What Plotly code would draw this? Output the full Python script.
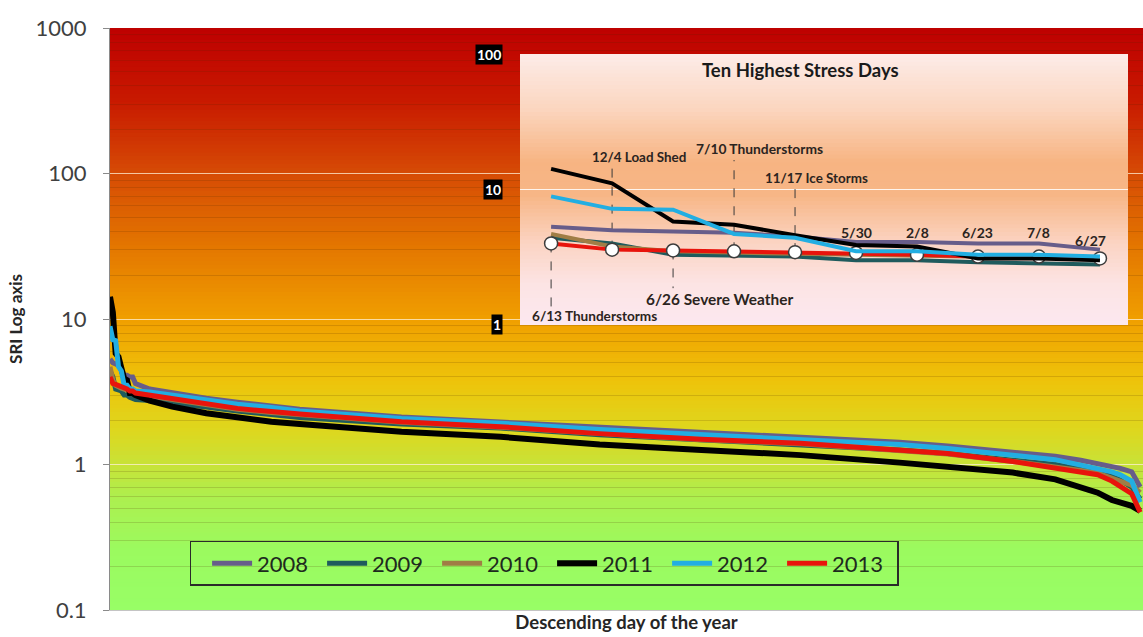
import numpy as np
import plotly.graph_objects as go

FONT = "Lato"

# ---------------- data ----------------
years = ["2008", "2009", "2010", "2011", "2012", "2013"]
days = [1, 2, 3, 4, 5, 6, 7, 8, 9, 10,
        15, 23, 35, 46, 58, 68,
        104, 139, 174, 210, 245,
        280, 297, 320, 335, 344,
        350, 355, 358, 362, 365]

sri_2008 = [5.3, 5.0, 4.9, 4.8, 4.5, 4.1, 4.1, 4.0, 4.0, 3.6,
            3.3, 3.1, 2.85, 2.68, 2.52, 2.4,
            2.12, 1.96, 1.78, 1.64, 1.53,
            1.42, 1.34, 1.22, 1.14, 1.07,
            1.02, 0.97, 0.94, 0.89, 0.70]
sri_2009 = [4.4, 4.0, 3.3, 3.25, 3.2, 3.0, 3.0, 2.9, 2.85, 2.8,
            2.75, 2.65, 2.48, 2.33, 2.2, 2.1,
            1.9, 1.78, 1.6, 1.48, 1.38,
            1.26, 1.19, 1.07, 1.0, 0.93,
            0.88, 0.83, 0.78, 0.70, 0.58]
sri_2010 = [4.7, 3.8, 3.5, 3.4, 3.35, 3.3, 3.25, 3.2, 3.15, 3.1,
            2.95, 2.8, 2.57, 2.4, 2.28, 2.2,
            1.95, 1.8, 1.62, 1.48, 1.39,
            1.26, 1.18, 1.05, 0.97, 0.91,
            0.87, 0.81, 0.77, 0.72, 0.64]
sri_2011 = [14.2, 11.1, 5.8, 5.5, 4.6, 3.9, 3.8, 3.1, 3.1, 3.0,
            2.75, 2.5, 2.25, 2.09, 1.97, 1.9,
            1.68, 1.55, 1.37, 1.26, 1.16,
            1.03, 0.966, 0.88, 0.79, 0.705,
            0.64, 0.57, 0.55, 0.52, 0.48]
sri_2012 = [8.9, 7.2, 7.1, 4.7, 4.4, 3.5, 3.5, 3.3, 3.3, 3.2,
            3.15, 3.0, 2.77, 2.6, 2.47, 2.33,
            2.07, 1.92, 1.74, 1.6, 1.49,
            1.37, 1.29, 1.16, 1.08, 0.99,
            0.94, 0.89, 0.85, 0.77, 0.55]
sri_2013 = [4.0, 3.6, 3.55, 3.5, 3.45, 3.4, 3.3, 3.2, 3.2, 3.1,
            3.0, 2.85, 2.6, 2.43, 2.31, 2.22,
            1.97, 1.82, 1.63, 1.49, 1.40,
            1.27, 1.19, 1.05, 0.95, 0.89,
            0.85, 0.77, 0.70, 0.63, 0.47]

event_dates = ["6/13", "12/4", "6/26", "7/10", "11/17", "5/30", "2/8", "6/23", "7/8", "6/27"]
event_names = ["Thunderstorms", "Load Shed", "Severe Weather", "Thunderstorms", "Ice Storms",
               "", "", "", "", ""]

y_tick_vals = [0.1, 1, 10, 100, 1000]
y_tick_text = ["0.1", "1", "10", "100", "1000"]
inset_tick_vals = [1, 10, 100]
inset_tick_text = ["1", "10", "100"]

series = {"2008": sri_2008, "2009": sri_2009, "2010": sri_2010,
          "2011": sri_2011, "2012": sri_2012, "2013": sri_2013}

# ---------------- styles ----------------
colors = {"2008": "#675d8a", "2009": "#1f5b5d", "2010": "#a07d45",
          "2011": "#000000", "2012": "#22aee2", "2013": "#e8140c"}
main_width = {"2008": 5, "2009": 5, "2010": 5, "2011": 6, "2012": 5, "2013": 5}

# label placement for the inset (SRI level of label, anchor, shift px, dashed-line end level, font size)
label_style = [
    (1.16, "left", -21, 1.26, 13.6),
    (17.4, "left", -22, 14.7, 13.4),
    (1.56, "left", -29, 1.87, 15.4),
    (20.2, "left", -40, 16.5, 13.8),
    (12.2, "left", -32, 10.8, 13.4),
    (4.78, "center", 0, None, 14),
    (4.78, "center", 0, None, 14),
    (4.78, "center", 0, None, 14),
    (4.78, "center", 0, None, 14),
    (4.17, "center", -9, None, 14),
]

main_stops = [(0.0, (190, 0, 0)), (0.124, (200, 25, 0)), (0.249, (214, 75, 5)),
              (0.381, (228, 120, 0)), (0.498, (240, 158, 0)), (0.605, (238, 195, 10)),
              (0.691, (222, 215, 30)), (0.749, (200, 226, 55)), (0.811, (172, 240, 80)),
              (0.897, (155, 250, 95)), (1.0, (152, 254, 102))]
inset_stops = [(0.0, (253, 236, 232)), (0.2, (251, 214, 192)), (0.4, (247, 180, 130)),
               (0.52, (247, 182, 134)), (0.7, (251, 212, 195)), (0.85, (252, 228, 228)),
               (1.0, (252, 232, 240))]

inset_x_range = [-0.51, 9.46]
inset_y_range = [0, 2]  # log10 of 1 .. 100


def lerp(stops, f):
    for (f0, c0), (f1, c1) in zip(stops, stops[1:]):
        if f0 <= f <= f1:
            t = (f - f0) / (f1 - f0) if f1 > f0 else 0
            return "rgb(%d,%d,%d)" % tuple(round(a + (b - a) * t) for a, b in zip(c0, c1))
    return "rgb(%d,%d,%d)" % stops[-1][1]


def gradient(xref, yref, xr, yr, stops, n, ylog=False):
    shapes = []
    span = yr[1] - yr[0]
    for i in range(n):
        top = yr[1] - span * i / n
        bot = max(yr[0], yr[1] - span * (i + 1.4) / n)
        if ylog:
            top, bot = 10 ** top, 10 ** bot
        f = (i + 0.5) / n
        shapes.append(dict(type="rect", xref=xref, yref=yref, x0=xr[0], x1=xr[1], y0=bot, y1=top,
                           fillcolor=lerp(stops, f), line=dict(width=0), layer="below"))
    return shapes


fig = go.Figure()

# main chart lines
for yr in years:
    fig.add_trace(go.Scatter(x=days, y=series[yr], mode="lines", name=yr,
                             line=dict(color=colors[yr], width=main_width[yr]),
                             xaxis="x", yaxis="y"))

# inset: ten highest days of each year
idx = list(range(10))
for i, (lvl, anch, shift, dash_end, fs) in enumerate(label_style):
    if dash_end is not None:
        fig.add_trace(go.Scatter(x=[idx[i], idx[i]], y=[sri_2013[i], dash_end], mode="lines",
                                 line=dict(color="#3a3a3a", width=1, dash="dash"),
                                 xaxis="x2", yaxis="y2", showlegend=False, hoverinfo="skip"))

inset_order = ["2008", "2009", "2010", "2013", "2011", "2012"]
for yr in inset_order:
    vals = series[yr][:10]
    if yr == "2013":
        fig.add_trace(go.Scatter(x=idx, y=vals, mode="lines+markers",
                                 line=dict(color=colors[yr], width=4),
                                 marker=dict(size=13, color="white",
                                             line=dict(color="#3c3c3c", width=1.5)),
                                 xaxis="x2", yaxis="y2", showlegend=False))
    else:
        fig.add_trace(go.Scatter(x=idx, y=vals, mode="lines",
                                 line=dict(color=colors[yr], width=4),
                                 xaxis="x2", yaxis="y2", showlegend=False))

shapes = gradient("x domain", "y domain", [0, 1], [0, 1], main_stops, 150)
shapes += gradient("x2", "y2", inset_x_range, inset_y_range, inset_stops, 70, ylog=True)

annotations = []
for i, (lvl, anch, shift, dash_end, fs) in enumerate(label_style):
    text = event_dates[i] + (" " + event_names[i] if event_names[i] else "")
    annotations.append(dict(x=idx[i], y=np.log10(lvl), xref="x2", yref="y2", text="<b>%s</b>" % text,
                            showarrow=False, xanchor=anch, yanchor="middle", xshift=shift,
                            font=dict(family=FONT, size=fs, color="#2b2420")))
for v, t in zip(inset_tick_vals, inset_tick_text):
    annotations.append(dict(x=0, y=np.log10(v), xref="x2 domain", yref="y2", text="<b>%s</b>" % t,
                            showarrow=False, xanchor="right", yanchor="middle", xshift=-17,
                            bgcolor="black", borderpad=1,
                            font=dict(family=FONT, size=14, color="white")))
annotations.append(dict(x=0.668, y=0.928, xref="paper", yref="paper",
                        text="<b>Ten Highest Stress Days</b>", showarrow=False,
                        xanchor="center", yanchor="middle",
                        font=dict(family=FONT, size=18.5, color="#1a1a1a")))

minor_vals = [k * 10.0 ** e for e in range(-1, 3) for k in range(2, 10)]

fig.update_layout(
    width=1143, height=637, autosize=False,
    margin=dict(l=110, r=0, t=28, b=27),
    paper_bgcolor="white", plot_bgcolor="rgba(0,0,0,0)",
    shapes=shapes, annotations=annotations,
    font=dict(family=FONT, color="#404040"),
    xaxis=dict(domain=[0, 1], range=[1, 366], showticklabels=False, ticks="", showgrid=False,
               zeroline=False, showline=True, linecolor="#c4c4c4", linewidth=1,
               title=dict(text="<b>Descending day of the year</b>", standoff=6,
                          font=dict(family=FONT, size=18.5, color="#262626"))),
    yaxis=dict(domain=[0, 1], type="log", range=[-1, 3], tickmode="array",
               tickvals=y_tick_vals, ticktext=y_tick_text, ticks="outside", ticklen=6,
               tickcolor="#8a8a8a", showline=True, linecolor="#8a8a8a", linewidth=1,
               tickfont=dict(family=FONT, size=22, color="#404040"), ticklabelstandoff=12,
               showgrid=True, gridcolor="rgba(255,240,215,0.75)", gridwidth=1.2,
               minor=dict(tickmode="array", tickvals=minor_vals, showgrid=True,
                          gridcolor="rgba(80,40,0,0.17)", gridwidth=1, ticks=""),
               zeroline=False,
               title=dict(text="<b>SRI Log axis</b>", standoff=8,
                          font=dict(family=FONT, size=17, color="#262626"))),
    xaxis2=dict(domain=[0.3969, 0.9855], range=inset_x_range, anchor="y2", visible=False),
    yaxis2=dict(domain=[0.4897, 0.9553], type="log", range=inset_y_range, anchor="x2",
                showticklabels=False, ticks="", tickmode="array", tickvals=[10],
                showgrid=True, gridcolor="rgba(255,255,255,0.85)", gridwidth=1,
                showline=False, zeroline=False),
    legend=dict(orientation="h", x=0.0774, y=0.1186, xanchor="left", yanchor="top",
                bgcolor="rgba(0,0,0,0)", bordercolor="#2a2a2a", borderwidth=1.5,
                font=dict(family=FONT, size=22, color="#1e2a1e"),
                title=dict(text="&nbsp;", side="left", font=dict(family=FONT, size=22)),
                itemwidth=40, entrywidth=60, entrywidthmode="pixels"),
    showlegend=True,
)

fig.write_html("out.html", config={"displayModeBar": False},
               post_script="document.body.style.margin='0';")
